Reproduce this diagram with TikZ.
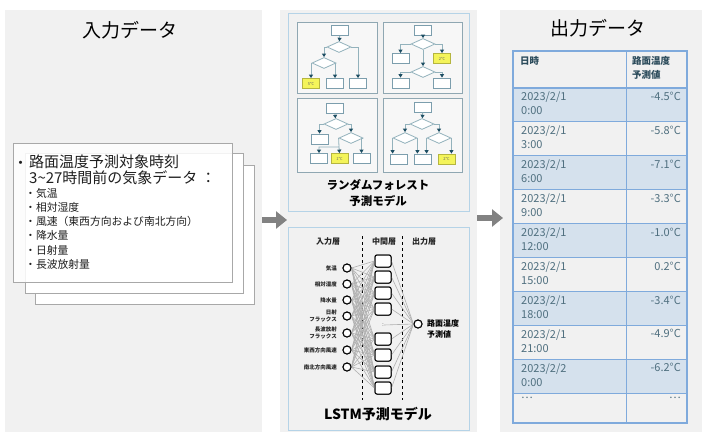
\documentclass[tikz,border=0pt]{standalone}
\usepackage{fontspec}
\setmainfont{Noto Sans CJK JP}
\usetikzlibrary{shapes.geometric,arrows.meta,calc}
\definecolor{panelbg}{HTML}{F1F1F1}
\definecolor{rfborder}{HTML}{B5D3E7}
\definecolor{trpanelc}{HTML}{8FA7B2}
\definecolor{trboxc}{HTML}{7C9EAD}
\definecolor{trdiac}{HTML}{93B2BC}
\definecolor{trarrc}{HTML}{1D4E63}
\definecolor{leafy}{HTML}{F4F45A}
\definecolor{leafb}{HTML}{B5B540}
\definecolor{nnline}{HTML}{B0B0B0}
\definecolor{tabborder}{HTML}{7FAADC}
\definecolor{tabrow}{HTML}{D5E1ED}
\definecolor{tabtext}{HTML}{4F6F7F}
\definecolor{tabhead}{HTML}{2B4B5B}
\definecolor{blockarr}{HTML}{828282}
\definecolor{cardline}{HTML}{A8A8A8}
\tikzset{
  trpanel/.style={draw=trpanelc,fill=white!97!black,line width=0.8pt},
  trbox/.style={draw=trboxc,fill=white,minimum width=17pt,minimum height=10pt,inner sep=0pt,line width=0.8pt},
  trleaf/.style={trbox,fill=leafy,draw=leafb,font=\fontsize{4}{4}\selectfont,text=black!60},
  trdia/.style={diamond,draw=trdiac,fill=white,minimum width=24pt,minimum height=11pt,inner sep=0pt,line width=0.8pt},
  trarr/.style={draw=trdiac,line width=0.8pt,-{Triangle[length=3.5pt,width=4pt,color=trarrc]}},
  incirc/.style={circle,draw=black,line width=1pt,fill=white,minimum size=8pt,inner sep=0pt},
  hidbox/.style={draw=black,line width=1pt,fill=white,rounded corners=2pt,minimum width=16pt,minimum height=12pt,inner sep=0pt},
  nnedge/.style={draw=nnline,line width=0.6pt},
  inlab/.style={anchor=east,align=right,inner sep=0pt,font=\bfseries\fontsize{5.5}{7}\selectfont,text=black!85},
  laylab/.style={inner sep=0pt,font=\bfseries\fontsize{8}{9}\selectfont,text=black!85},
  txt/.style={inner sep=0pt,anchor=west,text=black!88},
  card/.style={draw=cardline,fill=white,line width=0.9pt},
  bigarr/.style={draw=blockarr,line width=6pt,-{Triangle[length=11pt,width=17pt]}},
  datetxt/.style={anchor=north west,inner sep=0pt,align=left,text=tabtext,font=\fontsize{11}{14}\selectfont},
  valtxt/.style={anchor=north east,inner sep=0pt,text=tabtext,font=\fontsize{11}{14}\selectfont},
  headtxt/.style={anchor=north west,inner sep=0pt,align=left,text=tabhead,font=\bfseries\fontsize{9.5}{14}\selectfont}
}
\begin{document}
\begin{tikzpicture}[x=1pt,y=-1pt]
\useasboundingbox (0,0) rectangle (702,432);
\fill[white] (0,0) rectangle (702,432);
% panels
\fill[panelbg] (5,10) rectangle (262,432);
\fill[panelbg] (280,10) rectangle (477,432);
\fill[panelbg] (500,10) rectangle (702,432);
% titles
\node[inner sep=0pt,font=\fontsize{19}{20}\selectfont] (tin) at (130,30) {入力データ};
\node[inner sep=0pt,font=\fontsize{19}{20}\selectfont] (tout) at (598,28) {出力データ};
% cards
\draw[card] (35,165) rectangle (254,304);
\draw[card] (25,153) rectangle (243,293);
\draw[card,fill opacity=0.85] (13,143) rectangle (232,282);
\node[txt,font=\fontsize{15}{15}\selectfont] (b0) at (13,165) {・};
\node[txt,font=\fontsize{15}{15}\selectfont] (l1) at (29,162) {路面温度予測対象時刻};
\node[txt,font=\fontsize{15}{15}\selectfont] (l2) at (29,178) {3\textasciitilde27時間前の気象データ ：};
\node[txt,font=\fontsize{10.8}{11}\selectfont] (s1) at (25,193) {・気温};
\node[txt,font=\fontsize{10.8}{11}\selectfont] (s2) at (25,207) {・相対湿度};
\node[txt,font=\fontsize{10.8}{11}\selectfont] (s3) at (25,221) {・風速（東西方向および南北方向）};
\node[txt,font=\fontsize{10.8}{11}\selectfont] (s4) at (25,235) {・降水量};
\node[txt,font=\fontsize{10.8}{11}\selectfont] (s5) at (25,250) {・日射量};
\node[txt,font=\fontsize{10.8}{11}\selectfont] (s6) at (25,264) {・長波放射量};
% block arrows
\coordinate (a1s) at (262,220);
\coordinate (a1e) at (287,220);
\coordinate (a2s) at (477,218);
\coordinate (a2e) at (503,218);
\draw[bigarr] (a1s) -- (a1e);
\draw[bigarr] (a2s) -- (a2e);
% random forest box
\draw[fill=panelbg,draw=rfborder,line width=1pt] (288,13) rectangle (469,211);
% tree 1
\begin{scope}[shift={(297,22)}]
\draw[trpanel] (0,0) rectangle (80,71);
\node[trbox] (t1r) at (43,8.5) {};
\node[trdia] (t1a) at (42,25) {};
\node[trdia] (t1b) at (27,41) {};
\node[trleaf] (t1l1) at (14,61.5) {5℃};
\node[trbox] (t1l2) at (38,61.5) {};
\node[trbox] (t1l3) at (61,61.5) {};
\draw[trarr] (t1r) -- (t1a);
\draw[trarr] (t1a.west) -| (t1b.north);
\draw[trarr] (t1a.east) -| (t1l3.north);
\draw[trarr] (t1b.west) -| (t1l1.north);
\draw[trarr] (t1b.east) -| (t1l2.north);
\end{scope}
% tree 2
\begin{scope}[shift={(383,22)}]
\draw[trpanel] (0,0) rectangle (79,71);
\node[trbox] (t2r) at (40,8.5) {};
\node[trdia] (t2a) at (40,22) {};
\node[trbox] (t2l1) at (17.5,36.5) {};
\node[trleaf] (t2l2) at (59,36.5) {2℃};
\node[trdia] (t2b) at (40,50) {};
\node[trbox] (t2l3) at (17.5,61) {};
\node[trbox] (t2l4) at (59,61) {};
\draw[trarr] (t2r) -- (t2a);
\draw[trarr] (t2a.west) -| (t2l1.north);
\draw[trarr] (t2a.east) -| (t2l2.north);
\draw[trarr] (t2a) -- (t2b);
\draw[trarr] (t2b.west) -| (t2l3.north);
\draw[trarr] (t2b.east) -| (t2l4.north);
\end{scope}
% tree 3
\begin{scope}[shift={(297,98)}]
\draw[trpanel] (0,0) rectangle (80,74);
\node[trbox] (t3r) at (37.5,10.5) {};
\node[trdia] (t3a) at (39,26) {};
\node[trbox] (t3l0) at (22.5,41) {};
\node[trdia] (t3b) at (54,40) {};
\node[trbox] (t3l1) at (22,60.5) {};
\node[trleaf] (t3l2) at (42.5,60.5) {1℃};
\node[trbox] (t3l3) at (64.5,60.5) {};
\coordinate (t3s) at (42,49);
\draw[trarr] (t3r) -- (t3a);
\draw[trarr] (t3a.west) -| (t3l0.north);
\draw[trarr] (t3a.east) -| (t3b.north);
\draw[trarr] (t3b.west) -- (t3s) -| (t3l1.north);
\draw[trarr] (t3s) -- (t3l2.north);
\draw[trarr] (t3b.east) -| (t3l3.north);
\end{scope}
% tree 4
\begin{scope}[shift={(383,98)}]
\draw[trpanel] (0,0) rectangle (79,74);
\node[trbox] (t4r) at (40,9) {};
\node[trdia] (t4a) at (39,26) {};
\node[trdia] (t4b) at (22,40) {};
\node[trdia] (t4c) at (56,40) {};
\node[trbox] (t4l1) at (16,61) {};
\node[trbox] (t4l2) at (40,61) {};
\node[trleaf] (t4l3) at (63.5,61) {2℃};
\draw[trarr] (t4r) -- (t4a);
\draw[trarr] (t4a.west) -| (t4b.north);
\draw[trarr] (t4a.east) -| (t4c.north);
\draw[trarr] (t4b.west) -- (t4b.west |- t4l1.north);
\draw[trarr] (t4b.east) -- (t4b.east |- t4l2.north);
\draw[trarr] (t4c.west) -- (t4c.west |- t4l2.north);
\draw[trarr] (t4c.east) -- (t4c.east |- t4l3.north);
\end{scope}
\node[inner sep=0pt,font=\bfseries\fontsize{11.5}{12}\selectfont] (rf1) at (378,185) {ランダムフォレスト};
\node[inner sep=0pt,font=\bfseries\fontsize{11.5}{12}\selectfont] (rf2) at (378,201) {予測モデル};
% LSTM box
\draw[fill=panelbg,draw=rfborder,line width=1pt] (288,227) rectangle (469,430);
\node[laylab] (ly1) at (328,241) {入力層};
\node[laylab] (ly2) at (384,241) {中間層};
\node[laylab] (ly3) at (424,241) {出力層};
\coordinate (dl1a) at (362,236);
\coordinate (dl1b) at (362,400);
\coordinate (dl2a) at (402,236);
\coordinate (dl2b) at (402,400);
\draw[dashed,line width=0.8pt] (dl1a) -- (dl1b);
\draw[dashed,line width=0.8pt] (dl2a) -- (dl2b);
% nodes
\foreach \i/\y in {1/268,2/284,3/300,4/316,5/333,6/350,7/367}{
  \node[incirc] (in\i) at (347,\y) {};
}
\foreach \j/\y in {1/261,2/277,3/293,4/309,5/339,6/355,7/372,8/388}{
  \node[hidbox] (h\j) at (383,\y) {};
}
\node[inner sep=0pt,font=\fontsize{5}{5}\selectfont] (hd) at (383,325) {:};
\node[incirc] (out) at (418,324) {};
\foreach \i in {1,...,7}{
  \foreach \j in {1,...,8}{
    \draw[nnedge] (in\i.east) -- (h\j.west);
  }
}
\foreach \j in {1,...,8}{
  \draw[nnedge] (h\j.east) -- (out.west);
}
\draw[nnedge] (hd.east) -- (out.west);
% redraw hidden boxes and circles on top
\foreach \j/\y in {1/261,2/277,3/293,4/309,5/339,6/355,7/372,8/388}{
  \node[hidbox] at (383,\y) {};
}
\foreach \i/\y in {1/268,2/284,3/300,4/316,5/333,6/350,7/367}{
  \node[incirc] at (347,\y) {};
}
\node[incirc] at (418,324) {};
\node[inlab] (il1) at (337,268) {気温};
\node[inlab] (il2) at (337,284) {相対湿度};
\node[inlab] (il3) at (337,300) {降水量};
\node[inlab] (il4) at (337,316) {日射\\フラックス};
\node[inlab] (il5) at (337,333) {長波放射\\フラックス};
\node[inlab] (il6) at (337,350) {東西方向風速};
\node[inlab] (il7) at (337,367) {南北方向風速};
\node[anchor=west,align=left,inner sep=0pt,font=\bfseries\fontsize{8}{11}\selectfont] (outlab) at (427,329) {路面温度\\予測値};
\node[inner sep=0pt,font=\bfseries\fontsize{14}{14}\selectfont] (lstm) at (378,414) {LSTM予測モデル};
% table
\foreach \k in {0,2,4,6,8}{
  \fill[tabrow] (513,{88+33.9*\k}) rectangle (687,{88+33.9*(\k+1)});
}
\foreach \k in {1,...,9}{
  \draw[tabborder,line width=1pt] (513,{88+33.9*\k}) -- (687,{88+33.9*\k});
}
\draw[tabborder,line width=1.6pt] (513,88) -- (687,88);
\draw[tabborder,line width=1pt] (626,51) -- (626,423);
\draw[tabborder,line width=1.2pt] (513,51) rectangle (687,423);
\node[headtxt] (hh1) at (520,56) {日時};
\node[headtxt] (hh2) at (632,56) {路面温度\\予測値};
\foreach \k/\d/\t/\v in {0/2023\slash2\slash1/0:00/-4.5°C,1/2023\slash2\slash1/3:00/-5.8°C,2/2023\slash2\slash1/6:00/-7.1°C,3/2023\slash2\slash1/9:00/-3.3°C,4/2023\slash2\slash1/12:00/-1.0°C,5/2023\slash2\slash1/15:00/0.2°C,6/2023\slash2\slash1/18:00/-3.4°C,7/2023\slash2\slash1/21:00/-4.9°C,8/2023\slash2\slash2/0:00/-6.2°C}{
  \node[datetxt] (d\k) at (521,{88+33.9*\k+4}) {\d\\\t};
  \node[valtxt] (v\k) at (681,{88+33.9*\k+4}) {\v};
}
\node[datetxt] (d9) at (521,397) {…};
\node[valtxt] (v9) at (681,397) {…};
\end{tikzpicture}
\end{document}
